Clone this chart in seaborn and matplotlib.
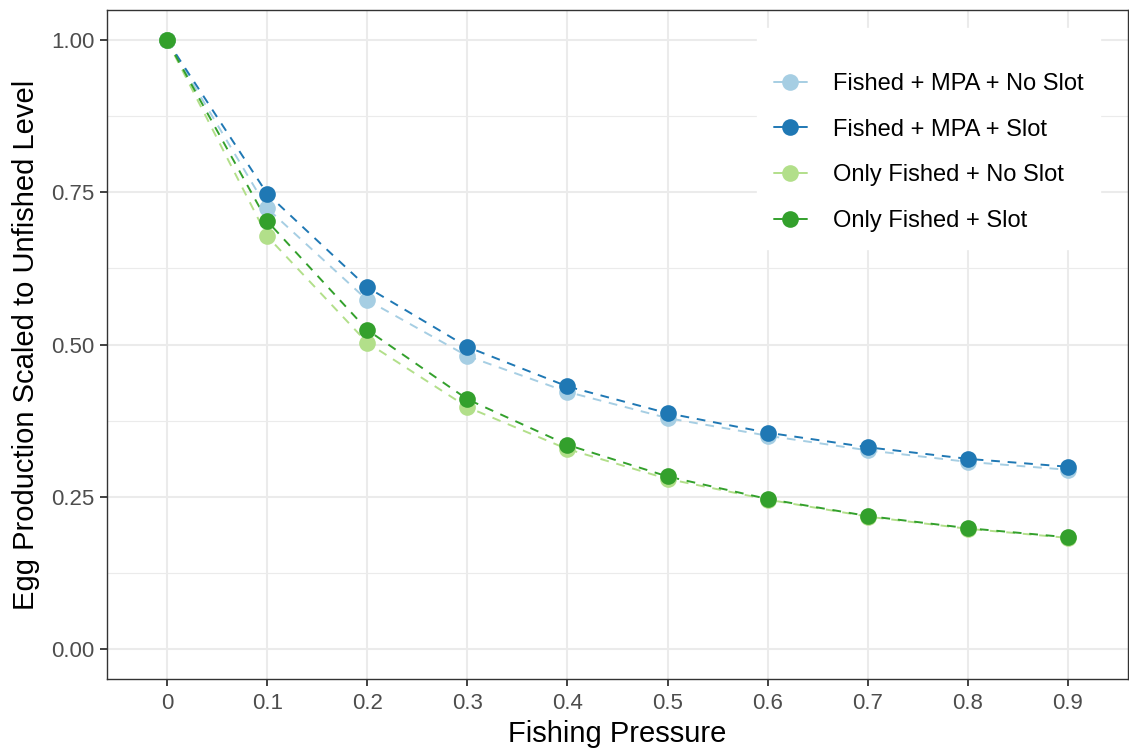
import matplotlib
matplotlib.use("Agg")
import matplotlib.pyplot as plt
import seaborn as sns
import pandas as pd
from matplotlib.ticker import MultipleLocator
from matplotlib.lines import Line2D

pressure = [0.0, 0.1, 0.2, 0.3, 0.4, 0.5, 0.6, 0.7, 0.8, 0.9]
pressure_labels = ["0", "0.1", "0.2", "0.3", "0.4", "0.5", "0.6", "0.7", "0.8", "0.9"]
mpa_no_slot = [1.0, 0.724, 0.573, 0.481, 0.422, 0.379, 0.350, 0.326, 0.307, 0.294]
mpa_slot = [1.0, 0.748, 0.594, 0.496, 0.431, 0.387, 0.355, 0.331, 0.312, 0.299]
only_no_slot = [1.0, 0.678, 0.503, 0.397, 0.328, 0.279, 0.245, 0.217, 0.197, 0.182]
only_slot = [1.0, 0.703, 0.524, 0.410, 0.335, 0.283, 0.246, 0.218, 0.198, 0.183]
series_names = ["Fished + MPA + No Slot", "Fished + MPA + Slot",
                "Only Fished + No Slot", "Only Fished + Slot"]
y_ticks = [0.0, 0.25, 0.5, 0.75, 1.0]
y_tick_labels = ["0.00", "0.25", "0.50", "0.75", "1.00"]
colors = ["#A6CEE3", "#1F78B4", "#B2DF8A", "#33A02C"]

rows = []
for name, vals in zip(series_names, [mpa_no_slot, mpa_slot, only_no_slot, only_slot]):
    for p, v in zip(pressure, vals):
        rows.append({"Fishing Pressure": p, "Egg": v, "Scenario": name})
df = pd.DataFrame(rows)

sns.set_theme(style="white")
plt.rcParams["font.family"] = ["Liberation Sans", "DejaVu Sans"]

fig = plt.figure(figsize=(11.29, 7.51), dpi=100)
ax = fig.add_axes([107 / 1129, 1 - 679 / 751, 1021 / 1129, 669 / 751])

palette = dict(zip(series_names, colors))
LW = 1.4
MS = 12
sns.lineplot(data=df, x="Fishing Pressure", y="Egg", hue="Scenario", palette=palette,
             hue_order=series_names, linestyle=(0, (4.5, 4)), linewidth=LW,
             legend=False, ax=ax, zorder=3)
for name in series_names:
    sub = df[df["Scenario"] == name]
    ax.plot(sub["Fishing Pressure"], sub["Egg"], linestyle="none", marker="o",
            markersize=MS, color=palette[name], markeredgewidth=0, zorder=4)

handles = [Line2D([0], [0], color=c, marker="o", markersize=MS, markeredgewidth=0,
                  linewidth=LW) for c in colors]
leg = ax.legend(handles, series_names, loc="upper right",
                bbox_to_anchor=((1100 - 107) / 1021, (679 - 28) / 669),
                frameon=True, fancybox=False, fontsize=17, handlelength=1.4,
                handletextpad=1.1, labelspacing=1.0, borderpad=0.7,
                borderaxespad=0, title=" ", title_fontsize=4, labelcolor="black")
leg.get_frame().set_facecolor("white")
leg.get_frame().set_edgecolor("white")
leg.get_frame().set_alpha(1)
leg.set_zorder(10)

ax.set_xlim(-0.06, 0.96)
ax.set_ylim(-0.05, 1.05)
ax.set_xticks(pressure)
ax.set_xticklabels(pressure_labels)
ax.set_yticks(y_ticks)
ax.set_yticklabels(y_tick_labels)
ax.yaxis.set_minor_locator(MultipleLocator(0.125))

ax.grid(True, which="major", color="#EBEBEB", linewidth=1.5, zorder=0)
ax.grid(True, which="minor", axis="y", color="#EBEBEB", linewidth=0.8, zorder=0)
ax.set_axisbelow(True)
for s in ax.spines.values():
    s.set_color("#333333")
    s.set_linewidth(1.0)

ax.tick_params(axis="both", which="major", length=5, width=1.3, color="#333333",
               labelsize=16, labelcolor="#4D4D4D", pad=4, bottom=True, left=True)
ax.tick_params(axis="x", which="major", pad=5)
ax.tick_params(axis="y", which="minor", length=0)
ax.set_xlabel("Fishing Pressure", fontsize=21, color="black", labelpad=4.5)
ax.set_ylabel("Egg Production Scaled to Unfished Level", fontsize=21, color="black", labelpad=8)

fig.savefig("out.png", dpi=100)
